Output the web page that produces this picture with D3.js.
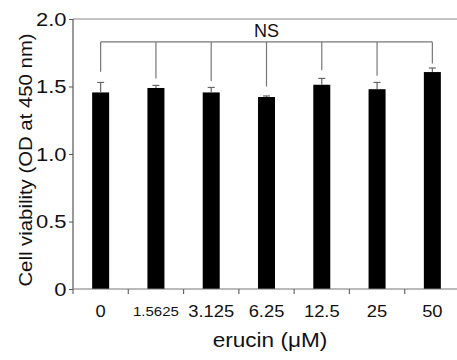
<!DOCTYPE html>
<html><head><meta charset="utf-8">
<script src="https://cdn.jsdelivr.net/npm/d3@7"></script>
<style>body{margin:0;background:#fff}svg{display:block}text{font-family:"Liberation Sans",Arial,sans-serif}</style>
</head><body><svg id="c" width="457" height="360"></svg>
<script>
const categories = ["0","1.5625","3.125","6.25","12.5","25","50"];
const values = [1.456, 1.489, 1.456, 1.422, 1.513, 1.480, 1.607];
const errors = [0.074, 0.019, 0.037, 0.008, 0.047, 0.050, 0.030];
const bracketDrops = [1.61, 1.56, 1.54, 1.50, 1.62, 1.58, 1.67];
const yTicks = [0, 0.5, 1.0, 1.5, 2.0];
const yTickLabels = ["0", "0.5", "1.0", "1.5", "2.0"];
const bracketLevel = 1.83;
const sigLabel = "NS";

const svg = d3.select("#c");
const mLeft = 73, mRight = 460, mTop = 19, mBottom = 289;
const xb = d3.scaleBand().domain(categories).range([mLeft, mRight]);
const y = d3.scaleLinear().domain([0, 2]).range([mBottom, mTop]);

function stretchedText(parent, px, py, txt, size, sx, anchor, rot) {
  return parent.append("text")
    .attr("transform", `translate(${px},${py})${rot ? " rotate(" + rot + ")" : ""} scale(${sx},1)`)
    .attr("text-anchor", anchor).attr("font-size", size).attr("fill", "#111").text(txt);
}

// top frame line
svg.append("line").attr("x1", mLeft).attr("x2", 457).attr("y1", y(2)).attr("y2", y(2)).attr("stroke", "#8a8a8a").attr("stroke-width", 1.2);

// bars
svg.selectAll("rect.bar").data(values).join("rect").attr("class","bar")
  .attr("x", (d,i) => xb(categories[i]) + xb.bandwidth()/2 - 8.5)
  .attr("width", 17)
  .attr("y", d => y(d)).attr("height", d => y(0) - y(d)).attr("fill", "#000");

// error bars
const eg = svg.append("g").attr("stroke", "#666").attr("stroke-width", 1.2);
values.forEach((v,i) => {
  const cx = xb(categories[i]) + xb.bandwidth()/2;
  eg.append("line").attr("x1", cx).attr("x2", cx).attr("y1", y(v)).attr("y2", y(v + errors[i]));
  eg.append("line").attr("x1", cx-3.5).attr("x2", cx+3.5).attr("y1", y(v + errors[i])).attr("y2", y(v + errors[i]));
});

// bracket
const bg = svg.append("g").attr("stroke", "#777").attr("stroke-width", 1.2).attr("fill", "none");
const cxs = categories.map(c => xb(c) + xb.bandwidth()/2);
bg.append("line").attr("x1", cxs[0]).attr("x2", cxs[cxs.length-1]).attr("y1", y(bracketLevel)).attr("y2", y(bracketLevel));
bracketDrops.forEach((d,i) => {
  bg.append("line").attr("x1", cxs[i]).attr("x2", cxs[i]).attr("y1", y(bracketLevel)).attr("y2", y(d));
});
stretchedText(svg, cxs[3], y(bracketLevel) - 5, sigLabel, 18, 1.0, "middle");

// y axis
const ySx = 1.22;
const yAxis = d3.axisLeft(y).tickValues(yTicks).tickFormat((d,i) => yTickLabels[i]).tickSize(4).tickPadding(2);
const ga = svg.append("g").attr("transform", `translate(${mLeft},0)`).call(yAxis);
ga.select(".domain").attr("stroke", "#555").attr("stroke-width", 1.2).attr("d", `M0,${y(2)}V${y(0)}`);
ga.selectAll(".tick line").attr("stroke", "#555");
ga.selectAll(".tick text").attr("font-size", 18).attr("fill", "#111").attr("font-family", "Liberation Sans, Arial, sans-serif")
  .attr("dy", "0.36em").attr("x", -6.5 / ySx).attr("transform", `scale(${ySx},1)`);

// x axis
const gx = svg.append("g").attr("transform", `translate(0,${mBottom})`);
gx.append("line").attr("x1", mLeft).attr("x2", 457).attr("y1", 0).attr("y2", 0).attr("stroke", "#777").attr("stroke-width", 1.2);
categories.concat(["end"]).forEach((c,i) => {
  const tx = mLeft + i * xb.bandwidth();
  gx.append("line").attr("x1", tx).attr("x2", tx).attr("y1", 0).attr("y2", 5).attr("stroke", "#666").attr("stroke-width", 1.2);
});
categories.forEach((c,i) => {
  const small = c === "1.5625";
  stretchedText(gx, cxs[i], small ? 27 : 28, c, small ? 12 : 17, small ? 1.25 : 1.08, "middle");
});

// axis titles
stretchedText(svg, 270, 347, "erucin (μM)", 20, 1.13, "middle");
stretchedText(svg, 32, 160, "Cell viability (OD at 450 nm)", 18.5, 1.1, "middle", -90);
</script></body></html>
